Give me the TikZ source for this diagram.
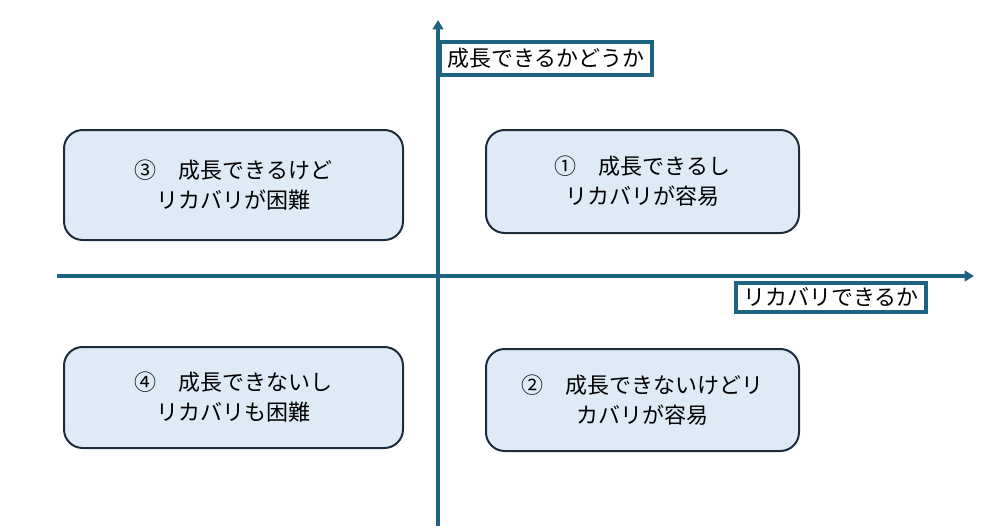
\documentclass[tikz,border=0pt]{standalone}
\usepackage{fontspec}
\setmainfont{Noto Sans CJK JP}
\usetikzlibrary{arrows.meta}
\definecolor{axiscol}{HTML}{1F6383}
\definecolor{boxline}{HTML}{1E2B3A}
\definecolor{boxfill}{HTML}{DEEBF7}
\tikzset{
  axis/.style={draw=axiscol, line width=2.3pt, -{Triangle[length=7pt,width=8pt]}},
  quad/.style={draw=boxline, fill=boxfill, line width=1.5pt, rounded corners=14pt, align=center,
    font=\fontsize{16.5pt}{22.5pt}\selectfont, inner sep=0pt},
  axlabel/.style={draw=axiscol, fill=white, line width=2.4pt, font=\fontsize{16.5pt}{18pt}\selectfont, inner sep=0pt}
}
\begin{document}
\begin{tikzpicture}[x=0.75pt,y=-0.75pt]
\useasboundingbox (0,0) rectangle (997,532);
\coordinate (vs) at (438,526);
\coordinate (ve) at (438,20);
\coordinate (hs) at (57,276);
\coordinate (he) at (974,276);
\draw[axis] (vs) -- (ve);
\draw[axis] (hs) -- (he);
\node[axlabel, minimum width=212*0.75pt, minimum height=33*0.75pt] (ly) at (546,58.5) {成長できるかどうか};
\node[axlabel, minimum width=190*0.75pt, minimum height=29*0.75pt] (lx) at (831,297.5) {リカバリできるか};
\node[quad, minimum width=339*0.75pt, minimum height=110*0.75pt] (q3) at (233.5,185) {③　成長できるけど\\リカバリが困難};
\node[quad, minimum width=313*0.75pt, minimum height=103*0.75pt] (q1) at (642.5,181.5) {①　成長できるし\\リカバリが容易};
\node[quad, minimum width=339*0.75pt, minimum height=101*0.75pt] (q4) at (233.5,397.5) {④　成長できないし\\リカバリも困難};
\node[quad, minimum width=313*0.75pt, minimum height=102*0.75pt] (q2) at (642.5,400) {②　成長できないけどリ\\カバリが容易};
\end{tikzpicture}
\end{document}
